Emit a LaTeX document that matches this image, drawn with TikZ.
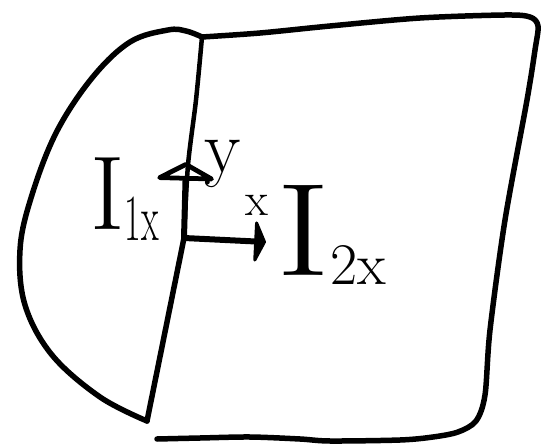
\documentclass[tikz,border=0pt]{standalone}
\usetikzlibrary{arrows.meta}
\begin{document}
\begin{tikzpicture}[x=1pt,y=-1pt,
  ink/.style={line width=5.5pt,line cap=round,line join=round},
  axis/.style={line width=6pt,line cap=round},
  lbl/.style={inner sep=0pt,outer sep=0pt}]
\useasboundingbox (0,0) rectangle (543,446);
% junction and corners
\coordinate (J) at (202,37);
\coordinate (B) at (147,421);
\coordinate (O) at (184,238);
\coordinate (Ytip) at (186,162);
\coordinate (Xtip) at (266,242);
% left lobe
\draw[ink] plot[smooth,tension=0.6] coordinates {(J) (186,31) (168,30) (130,42) (92,78) (56,133) (31,198) (20,250) (25,305) (52,355) (100,397) (B)};
% divider
\draw[ink,line width=4.5pt] plot[smooth,tension=0.5] coordinates {(J) (196,100) (188,165) (O)};
\draw[ink] (O) -- (B);
% right panel: top, right, bottom
\draw[ink] plot[smooth,tension=0.5] coordinates {(J) (260,33) (330,26) (420,18) (505,15) (530,17) (538,26) (535,50) (527,100) (505,220) (490,330) (485,395) (476,421) (458,432) (433,437) (400,440) (330,441) (300,439) (250,437) (200,438) (157,439)};
% axes
\draw[axis,-{Triangle[open,round,width=70pt,length=19pt]}] (O) -- (Ytip);
\draw[axis,-{Triangle[round,width=50pt,length=12pt]}] (O) -- (Xtip);
% labels
\node[lbl,anchor=center] (ly) at (223,164) {\fontsize{75}{75}\selectfont y};
\node[lbl,anchor=center] (lx) at (257,205) {\fontsize{47}{47}\selectfont x};
\node[lbl,anchor=base west] (I1) at (90,230) {\fontsize{105}{105}\selectfont I\raisebox{-10pt}{\scalebox{0.55}[1]{\fontsize{66}{66}\selectfont 1x}}};
\node[lbl,anchor=base west] (I2) at (276,276) {\scalebox{1.25}[1]{\fontsize{132}{132}\selectfont I}\raisebox{-9pt}{\fontsize{59}{59}\selectfont 2x}};
\end{tikzpicture}
\end{document}
